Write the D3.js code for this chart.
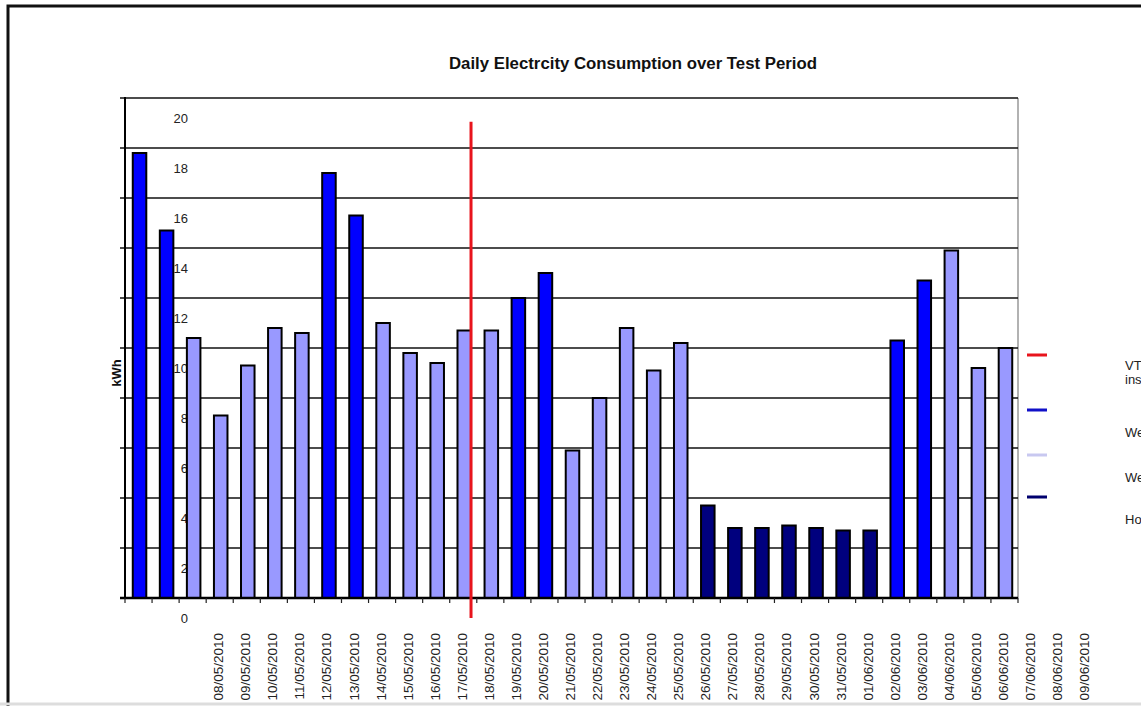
<!DOCTYPE html>
<html>
<head>
<meta charset="utf-8">
<script src="https://cdn.jsdelivr.net/npm/d3@7"></script>
<style>
  body { margin: 0; background: #fff; }
  svg { display: block; font-family: "Liberation Sans", Arial, sans-serif; }
</style>
</head>
<body>
<div id="container"></div>
<script>
const width = 1141;
const height = 706;
const margin = { top: 98, right: 123, bottom: 108, left: 125 };

// days with a bar, in order
const days = [
  "05/05/2010", "06/05/2010", "07/05/2010", "08/05/2010", "09/05/2010", "10/05/2010",
  "11/05/2010", "12/05/2010", "13/05/2010", "14/05/2010", "15/05/2010", "16/05/2010",
  "17/05/2010", "18/05/2010", "19/05/2010", "20/05/2010", "21/05/2010", "22/05/2010",
  "23/05/2010", "24/05/2010", "25/05/2010", "26/05/2010", "27/05/2010", "28/05/2010",
  "29/05/2010", "30/05/2010", "31/05/2010", "01/06/2010", "02/06/2010", "03/06/2010",
  "04/06/2010", "05/06/2010", "06/06/2010"
];
const kwh = [
  17.8, 14.7, 10.4, 7.3, 9.3, 10.8, 10.6, 17.0, 15.3, 11.0, 9.8,
  9.4, 10.7, 10.7, 12.0, 13.0, 5.9, 8.0, 10.8, 9.1, 10.2, 3.7,
  2.8, 2.8, 2.9, 2.8, 2.7, 2.7, 10.3, 12.7, 13.9, 9.2, 10.0
];
const dayType = [
  "Weekday", "Weekday", "Weekend", "Weekend", "Weekend", "Weekend", "Weekend",
  "Weekday", "Weekday", "Weekend", "Weekend", "Weekend", "Weekend", "Weekend",
  "Weekday", "Weekday", "Weekend", "Weekend", "Weekend", "Weekend", "Weekend",
  "Holiday", "Holiday", "Holiday", "Holiday", "Holiday", "Holiday", "Holiday",
  "Weekday", "Weekday", "Weekend", "Weekend", "Weekend"
];
// the date labels as printed under the axis
const tickLabels = [
  "08/05/2010", "09/05/2010", "10/05/2010", "11/05/2010", "12/05/2010", "13/05/2010",
  "14/05/2010", "15/05/2010", "16/05/2010", "17/05/2010", "18/05/2010", "19/05/2010",
  "20/05/2010", "21/05/2010", "22/05/2010", "23/05/2010", "24/05/2010", "25/05/2010",
  "26/05/2010", "27/05/2010", "28/05/2010", "29/05/2010", "30/05/2010", "31/05/2010",
  "01/06/2010", "02/06/2010", "03/06/2010", "04/06/2010", "05/06/2010", "06/06/2010",
  "07/06/2010", "08/06/2010", "09/06/2010"
];
const yTicks = [0, 2, 4, 6, 8, 10, 12, 14, 16, 18, 20];
const installDay = "17/05/2010";
const installSpan = [-0.8, 19.05];

const legendItems = ["VT installed", "Weekday", "Weekend", "Holiday"];
const legendColors = ["#e8141c", "#1010c8", "#c8c8f0", "#00006e"];
const barColors = { Weekday: "#0000ff", Weekend: "#9999ff", Holiday: "#00007e" };

const plotW = width - margin.left - margin.right;
const plotH = height - margin.top - margin.bottom;
const allDays = [...new Set([...days, ...tickLabels])];

const x = d3.scaleBand()
  .domain(allDays)
  .range([margin.left + 1, margin.left + 1 + plotW * allDays.length / days.length])
  .paddingInner(0.5)
  .paddingOuter(0.25);
const step = x.step();
const y = d3.scaleLinear().domain([0, 20]).range([margin.top + plotH, margin.top]);
const plotRight = margin.left + plotW;

const svg = d3.select("#container").append("svg")
  .attr("width", width)
  .attr("height", height);

// page frame
svg.append("path")
  .attr("d", `M8,${height}V6H${width}`)
  .attr("fill", "none")
  .attr("stroke", "#111")
  .attr("stroke-width", 3);
svg.append("line")
  .attr("x1", 0).attr("x2", width)
  .attr("y1", height - 2).attr("y2", height - 2)
  .attr("stroke", "#ddd").attr("stroke-width", 3);

svg.append("text")
  .attr("x", 633)
  .attr("y", 69)
  .attr("text-anchor", "middle")
  .attr("font-size", 16.8)
  .attr("font-weight", "bold")
  .attr("fill", "#111")
  .text("Daily Electrcity Consumption over Test Period");

// right border of plot
svg.append("line")
  .attr("x1", plotRight).attr("x2", plotRight)
  .attr("y1", y(20)).attr("y2", y(0))
  .attr("stroke", "#999").attr("stroke-width", 1.5);

// gridlines
svg.append("g")
  .selectAll("line")
  .data(yTicks)
  .join("line")
  .attr("x1", margin.left - 5)
  .attr("x2", plotRight)
  .attr("y1", (d) => y(d))
  .attr("y2", (d) => y(d))
  .attr("stroke", "#111")
  .attr("stroke-width", 1.4);

// y tick labels (printed shifted below their gridlines)
svg.append("g")
  .selectAll("text")
  .data(yTicks)
  .join("text")
  .attr("x", 188)
  .attr("y", (d) => y(d) + 20)
  .attr("dy", "0.35em")
  .attr("text-anchor", "end")
  .attr("font-size", 13)
  .attr("fill", "#222")
  .text((d) => d);

svg.append("text")
  .attr("transform", `translate(121,${y(9)}) rotate(-90)`)
  .attr("text-anchor", "middle")
  .attr("font-size", 13)
  .attr("font-weight", "bold")
  .attr("fill", "#111")
  .text("kWh");

// bars
svg.append("g")
  .selectAll("rect")
  .data(days)
  .join("rect")
  .attr("x", (d) => x(d))
  .attr("y", (d, i) => y(kwh[i]))
  .attr("width", x.bandwidth())
  .attr("height", (d, i) => y(0) - y(kwh[i]))
  .attr("fill", (d, i) => barColors[dayType[i]])
  .attr("stroke", "#000")
  .attr("stroke-width", 2);

// axes
svg.append("line")
  .attr("x1", margin.left).attr("x2", margin.left)
  .attr("y1", y(20) - 1).attr("y2", y(0) + 1)
  .attr("stroke", "#000").attr("stroke-width", 2);
svg.append("line")
  .attr("x1", margin.left - 5).attr("x2", plotRight)
  .attr("y1", y(0)).attr("y2", y(0))
  .attr("stroke", "#000").attr("stroke-width", 2.5);

svg.append("g")
  .selectAll("line")
  .data([...days, null])
  .join("line")
  .attr("x1", (d, i) => margin.left + i * step)
  .attr("x2", (d, i) => margin.left + i * step)
  .attr("y1", y(0))
  .attr("y2", y(0) + 5)
  .attr("stroke", "#222")
  .attr("stroke-width", 1.2);

// x labels
svg.append("g")
  .selectAll("text")
  .data(tickLabels)
  .join("text")
  .attr("transform", (d) => `translate(${x(d) + x.bandwidth() / 2 + 2.5},633) rotate(-90)`)
  .attr("text-anchor", "end")
  .attr("font-size", 13.5)
  .attr("fill", "#222")
  .text((d) => d);

// installation marker
svg.append("line")
  .attr("x1", x(installDay) + x.bandwidth())
  .attr("x2", x(installDay) + x.bandwidth())
  .attr("y1", y(installSpan[1]))
  .attr("y2", y(installSpan[0]))
  .attr("stroke", legendColors[0])
  .attr("stroke-width", 3);

// legend (its text runs off the right edge, as in the source)
const legendY = [355, 410, 455, 497];
const legend = svg.append("g").attr("id", "legend");
legend.selectAll("line")
  .data(legendItems)
  .join("line")
  .attr("x1", 1027).attr("x2", 1047)
  .attr("y1", (d, i) => legendY[i])
  .attr("y2", (d, i) => legendY[i])
  .attr("stroke", (d, i) => legendColors[i])
  .attr("stroke-width", 3);

const legendText = legend.selectAll("text")
  .data(legendItems)
  .join("text")
  .attr("x", 1125)
  .attr("y", (d, i) => legendY[i] + (i === 0 ? 15 : 27))
  .attr("font-size", 13)
  .attr("fill", "#222");
legendText.filter((d, i) => i === 0)
  .selectAll("tspan")
  .data(["VT", "installed"])
  .join("tspan")
  .attr("x", 1125)
  .attr("dy", (d, i) => (i === 0 ? 0 : 14))
  .text((d) => d);
legendText.filter((d, i) => i > 0).text((d) => d);
</script>
</body>
</html>
